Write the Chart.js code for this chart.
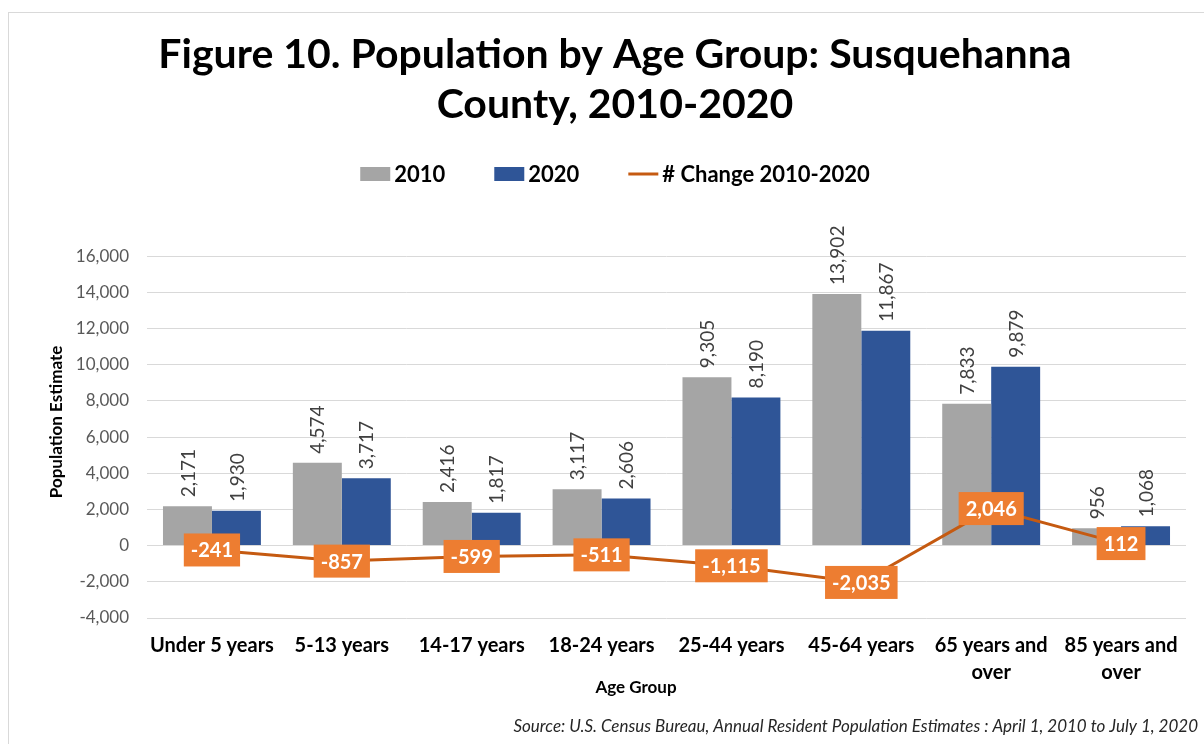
<!DOCTYPE html>
<html>
<head>
<meta charset="utf-8">
<script src="https://cdn.jsdelivr.net/npm/chart.js@4.4.1/dist/chart.umd.min.js"></script>
<style>
  html, body { margin: 0; padding: 0; background: #fff; overflow: hidden; }
  #frame {
    position: absolute; left: 8px; top: 12px;
    width: 1214px; height: 740px;
    border: 1px solid #d9d9d9; box-sizing: border-box;
  }
</style>
</head>
<body>
<div id="frame"><canvas id="graphCanvas"></canvas></div>
<script>
// donnees
var ageGroups = ['Under 5 years', '5-13 years', '14-17 years', '18-24 years', '25-44 years', '45-64 years', ['65 years and', 'over'], ['85 years and', 'over']];
var pop2010 = [2171, 4574, 2416, 3117, 9305, 13902, 7833, 956];
var pop2020 = [1930, 3717, 1817, 2606, 8190, 11867, 9879, 1068];
var change = [-241, -857, -599, -511, -1115, -2035, 2046, 112];
var yMin = -4000, yMax = 16000, yStep = 2000;
var xTitle = 'Age Group';
var yTitle = 'Population Estimate';
var sourceText = 'Source: U.S. Census Bureau, Annual Resident Population Estimates : April 1, 2010 to July 1, 2020';

var FONT = 'Lato';
var GRAY = '#A5A5A5', BLUE = '#2F5597', LINE = '#C55A11', BOX = '#ED7D31';

function fmt(v) {
  return v.toLocaleString('en-US');
}

// etiquettes des barres (verticales) et de la courbe (boites orange)
var valueLabels = {
  id: 'valueLabels',
  afterDatasetsDraw: function (chart) {
    var ctx = chart.ctx;
    ctx.save();
    chart.data.datasets.forEach(function (ds, i) {
      var meta = chart.getDatasetMeta(i);
      if (ds.type === 'line') return;
      ctx.font = '19px ' + FONT;
      ctx.fillStyle = '#404040';
      ctx.textAlign = 'left';
      ctx.textBaseline = 'middle';
      meta.data.forEach(function (bar, j) {
        ctx.save();
        ctx.translate(bar.x, bar.y - 9);
        ctx.rotate(-Math.PI / 2);
        ctx.fillText(fmt(ds.data[j]), 0, 1);
        ctx.restore();
      });
    });
    chart.data.datasets.forEach(function (ds, i) {
      if (ds.type !== 'line') return;
      var meta = chart.getDatasetMeta(i);
      ctx.font = 'bold 20px ' + FONT;
      ctx.textAlign = 'center';
      ctx.textBaseline = 'middle';
      meta.data.forEach(function (pt, j) {
        var txt = fmt(ds.data[j]);
        var w = ctx.measureText(txt).width + 14;
        var h = 33;
        ctx.fillStyle = BOX;
        ctx.fillRect(pt.x - w / 2, pt.y - h / 2, w, h);
        ctx.fillStyle = '#fff';
        ctx.fillText(txt, pt.x, pt.y + 1);
      });
    });
    ctx.restore();
  }
};

// legende, titres d'axes et source dessines a la main
var legendAndSource = {
  id: 'legendAndSource',
  afterDraw: function (chart) {
    var ctx = chart.ctx;
    ctx.save();
    ctx.font = 'bold 22px ' + FONT;
    ctx.textBaseline = 'middle';
    ctx.textAlign = 'left';
    var items = chart.data.datasets.map(function (ds) {
      return { text: ds.label, color: ds.type === 'line' ? ds.borderColor : ds.backgroundColor, line: ds.type === 'line' };
    });
    var boxW = 30, gap = 4, spacing = 49;
    var total = 0;
    items.forEach(function (it, k) {
      it.w = ctx.measureText(it.text).width;
      total += boxW + gap + it.w + (k > 0 ? spacing : 0);
    });
    var x = chart.width / 2 - total / 2;
    var y = 161;
    items.forEach(function (it) {
      if (it.line) {
        ctx.strokeStyle = it.color;
        ctx.lineWidth = 3;
        ctx.beginPath();
        ctx.moveTo(x, y);
        ctx.lineTo(x + boxW, y);
        ctx.stroke();
      } else {
        ctx.fillStyle = it.color;
        ctx.fillRect(x, y - 7, boxW, 14);
      }
      ctx.fillStyle = '#000';
      ctx.fillText(it.text, x + boxW + gap, y + 1);
      x += boxW + gap + it.w + spacing;
    });

    ctx.font = 'bold 17px ' + FONT;
    ctx.fillStyle = '#000';
    ctx.textAlign = 'center';
    ctx.fillText(xTitle, 627, 675);
    ctx.save();
    ctx.translate(48, 409);
    ctx.rotate(-Math.PI / 2);
    ctx.fillText(yTitle, 0, 0);
    ctx.restore();

    ctx.font = 'italic 17px ' + FONT;
    ctx.fillStyle = '#262626';
    ctx.textAlign = 'right';
    ctx.fillText(sourceText, 1189, 714);
    ctx.restore();
  }
};

var graphTarget = document.getElementById('graphCanvas');

var chart = new Chart(graphTarget, {
  data: {
    labels: ageGroups,
    datasets: [
      {
        type: 'bar',
        label: '2010',
        backgroundColor: GRAY,
        data: pop2010,
        order: 2,
        categoryPercentage: 0.754,
        barPercentage: 1
      },
      {
        type: 'bar',
        label: '2020',
        backgroundColor: BLUE,
        data: pop2020,
        order: 2,
        categoryPercentage: 0.754,
        barPercentage: 1
      },
      {
        type: 'line',
        label: '# Change 2010-2020',
        borderColor: LINE,
        backgroundColor: LINE,
        borderWidth: 3,
        pointRadius: 0,
        tension: 0,
        data: change,
        order: 0
      }
    ]
  },
  plugins: [valueLabels, legendAndSource],
  options: {
    responsive: true,
    maintainAspectRatio: false,
    animation: false,
    layout: { padding: { left: 35, right: 35, top: 0, bottom: 33 } },
    plugins: {
      legend: { display: false },
      tooltip: { enabled: false },
      title: {
        display: true,
        text: ['Figure 10. Population by Age Group: Susquehanna', 'County, 2010-2020'],
        color: '#000',
        font: { family: FONT, size: 41, weight: 'bold', lineHeight: 1.22 },
        padding: { top: 17, bottom: 126 }
      }
    },
    scales: {
      x: {
        grid: { display: false, drawTicks: false },
        border: { display: false },
        ticks: {
          color: '#000',
          padding: 14,
          maxRotation: 0,
          autoSkip: false,
          font: { family: FONT, size: 20, weight: 'bold', lineHeight: 1.35 }
        },
        afterFit: function (scale) { scale.height = 100; }
      },
      y: {
        min: yMin,
        max: yMax,
        grid: { color: '#d9d9d9', lineWidth: 1, drawTicks: false },
        border: { display: false },
        ticks: {
          stepSize: yStep,
          color: '#595959',
          padding: 18,
          font: { family: FONT, size: 17 },
          callback: function (v) { return fmt(v); }
        },
        afterFit: function (scale) { scale.width = 103; }
      }
    }
  }
});
</script>
</body>
</html>
